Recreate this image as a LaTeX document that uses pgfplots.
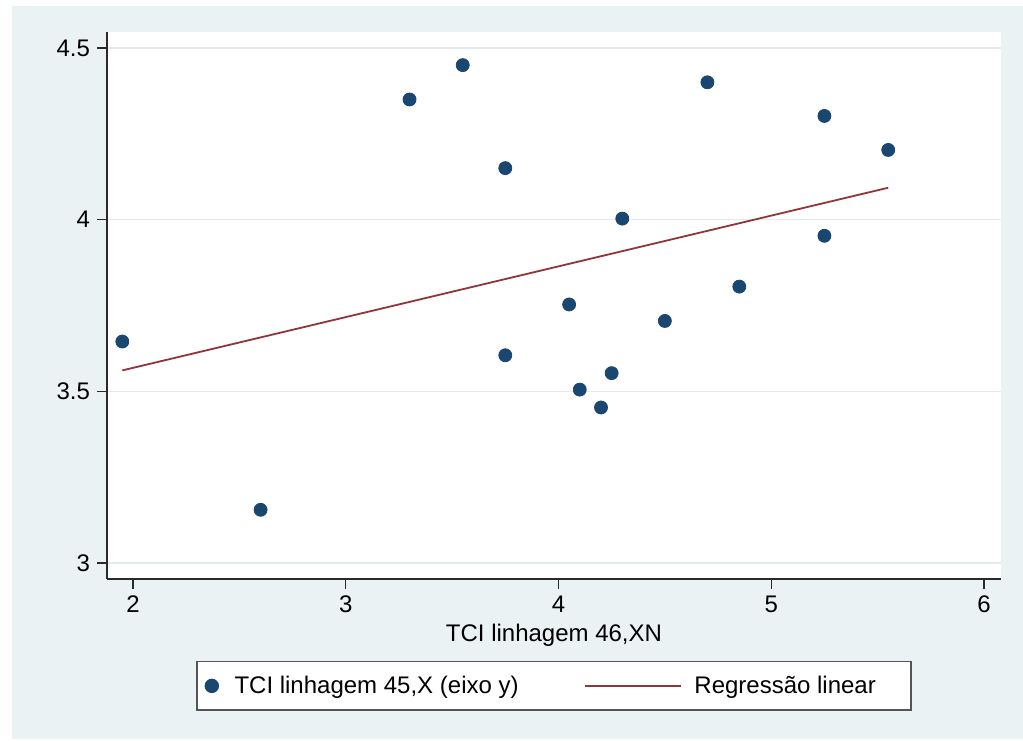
\documentclass[border=0pt]{standalone}
\usepackage{pgfplots}
\pgfplotsset{compat=1.18}
\usepackage{fontspec}
\setmainfont{Liberation Sans}
\definecolor{navy}{HTML}{1A476F}
\definecolor{maroon}{HTML}{90353B}
\definecolor{bgblue}{HTML}{EAF2F3}
\definecolor{gridc}{HTML}{E4EBED}
\definecolor{axc}{HTML}{2A2A2A}
\begin{document}
\begin{tikzpicture}
\useasboundingbox (-53.5pt,-80.5pt) rectangle (458pt,289.5pt);
\fill[white] (-53.5pt,-80.5pt) rectangle (458pt,289.5pt);
\fill[bgblue] (-47.5pt,-80pt) rectangle (458pt,286.5pt);
\begin{axis}[
  scale only axis,
  width=447pt, height=273.5pt,
  xmin=1.878, xmax=6.08,
  ymin=2.9535, ymax=4.5465,
  axis background/.style={fill=white},
  axis lines*=left,
  axis line style={axc, line width=0.7pt},
  every tick/.style={axc, line width=0.7pt},
  tick align=outside,
  major tick length=5pt,
  xtick={2,3,4,5,6},
  ytick={3,3.5,4,4.5},
  yticklabels={3,3.5,4,4.5},
  xticklabels={2,3,4,5,6},
  ymajorgrids=true,
  grid style={gridc, line width=0.6pt},
  tick label style={font=\fontsize{12}{14}\selectfont, black},
  /pgf/number format/assume math mode=true,
  xlabel={TCI linhagem 46,XN},
  xlabel style={font=\fontsize{12}{14}\selectfont, at={(axis description cs:0.5,0)}, anchor=base, yshift=-31pt},
  legend columns=2,
  legend style={
    at={(axis description cs:0.5,0)}, anchor=north, yshift=-41pt,
    draw=axc!80, line width=0.7pt, fill=white,
    font=\fontsize{12}{14}\selectfont,
    inner xsep=2pt, inner ysep=5pt,
    /tikz/every even column/.append style={column sep=30.5pt},
  },
  legend cell align=left,
]
\addplot[only marks, mark=*, mark size=3.25pt, mark options={fill=navy, draw=navy},
  legend image code/.code={\path (-5pt,0pt) (9pt,0pt); \fill[navy] (0pt,0pt) circle (3.25pt);}]
 coordinates {
 (1.95,3.645) (2.6,3.155) (3.3,4.35) (3.55,4.45) (3.75,4.15) (3.75,3.605)
 (4.05,3.753) (4.1,3.505) (4.2,3.453) (4.25,3.553) (4.3,4.003) (4.5,3.705)
 (4.7,4.40) (4.85,3.805) (5.25,4.302) (5.25,3.953) (5.55,4.203)
 };
\addlegendentry{TCI linhagem 45,X (eixo y)}
\addplot[maroon, line width=0.9pt,
  legend image code/.code={\path (0pt,0pt) (52.5pt,0pt); \draw[maroon, line width=0.9pt] (0pt,0pt)--(48pt,0pt);}]
 coordinates {(1.95,3.561) (5.55,4.093)};
\addlegendentry{Regressão linear\hspace*{13.5pt}}
\end{axis}
\end{tikzpicture}
\end{document}
